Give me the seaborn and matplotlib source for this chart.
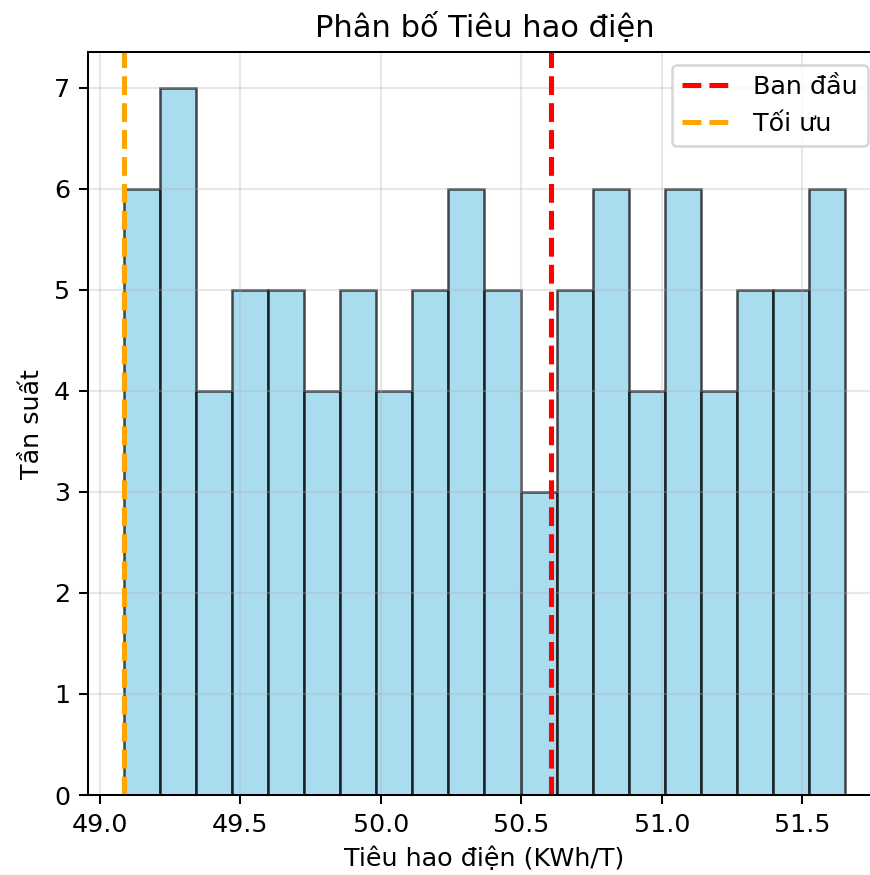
import matplotlib
matplotlib.use("Agg")
import matplotlib.pyplot as plt
import seaborn as sns
import numpy as np
import pandas as pd

# histogram counts per bin (20 bins)
counts = [6, 7, 4, 5, 5, 4, 5, 4, 5, 6, 5, 3, 5, 6, 4, 6, 4, 5, 5, 6]
data_min = 49.086
data_max = 51.651
baseline_value = 50.605   # Ban đầu
optimal_value = 49.086    # Tối ưu

edges = np.linspace(data_min, data_max, len(counts) + 1)
df = pd.DataFrame({"center": (edges[:-1] + edges[1:]) / 2, "count": counts})

DPI = 183
fig = plt.figure(figsize=(870 / DPI, 875 / DPI), dpi=DPI)
ax = fig.add_axes([0.1011, 0.0914, 0.9115, 0.849])

sns.histplot(data=df, x="center", weights="count", bins=len(counts),
             binrange=(data_min, data_max), color="skyblue",
             edgecolor=(0, 0, 0, 0.7), alpha=0.7, ax=ax)
ax.axvline(baseline_value, color="red", linestyle="--", linewidth=2, label="Ban đầu")
ax.axvline(optimal_value, color="orange", linestyle="--", linewidth=2, label="Tối ưu")

ax.set_title("Phân bố Tiêu hao điện", fontsize=12)
ax.set_xlabel("Tiêu hao điện (KWh/T)")
ax.set_ylabel("Tần suất")
ax.legend(loc="upper right")
ax.grid(True, alpha=0.3)

fig.savefig("out.png", dpi=DPI)
